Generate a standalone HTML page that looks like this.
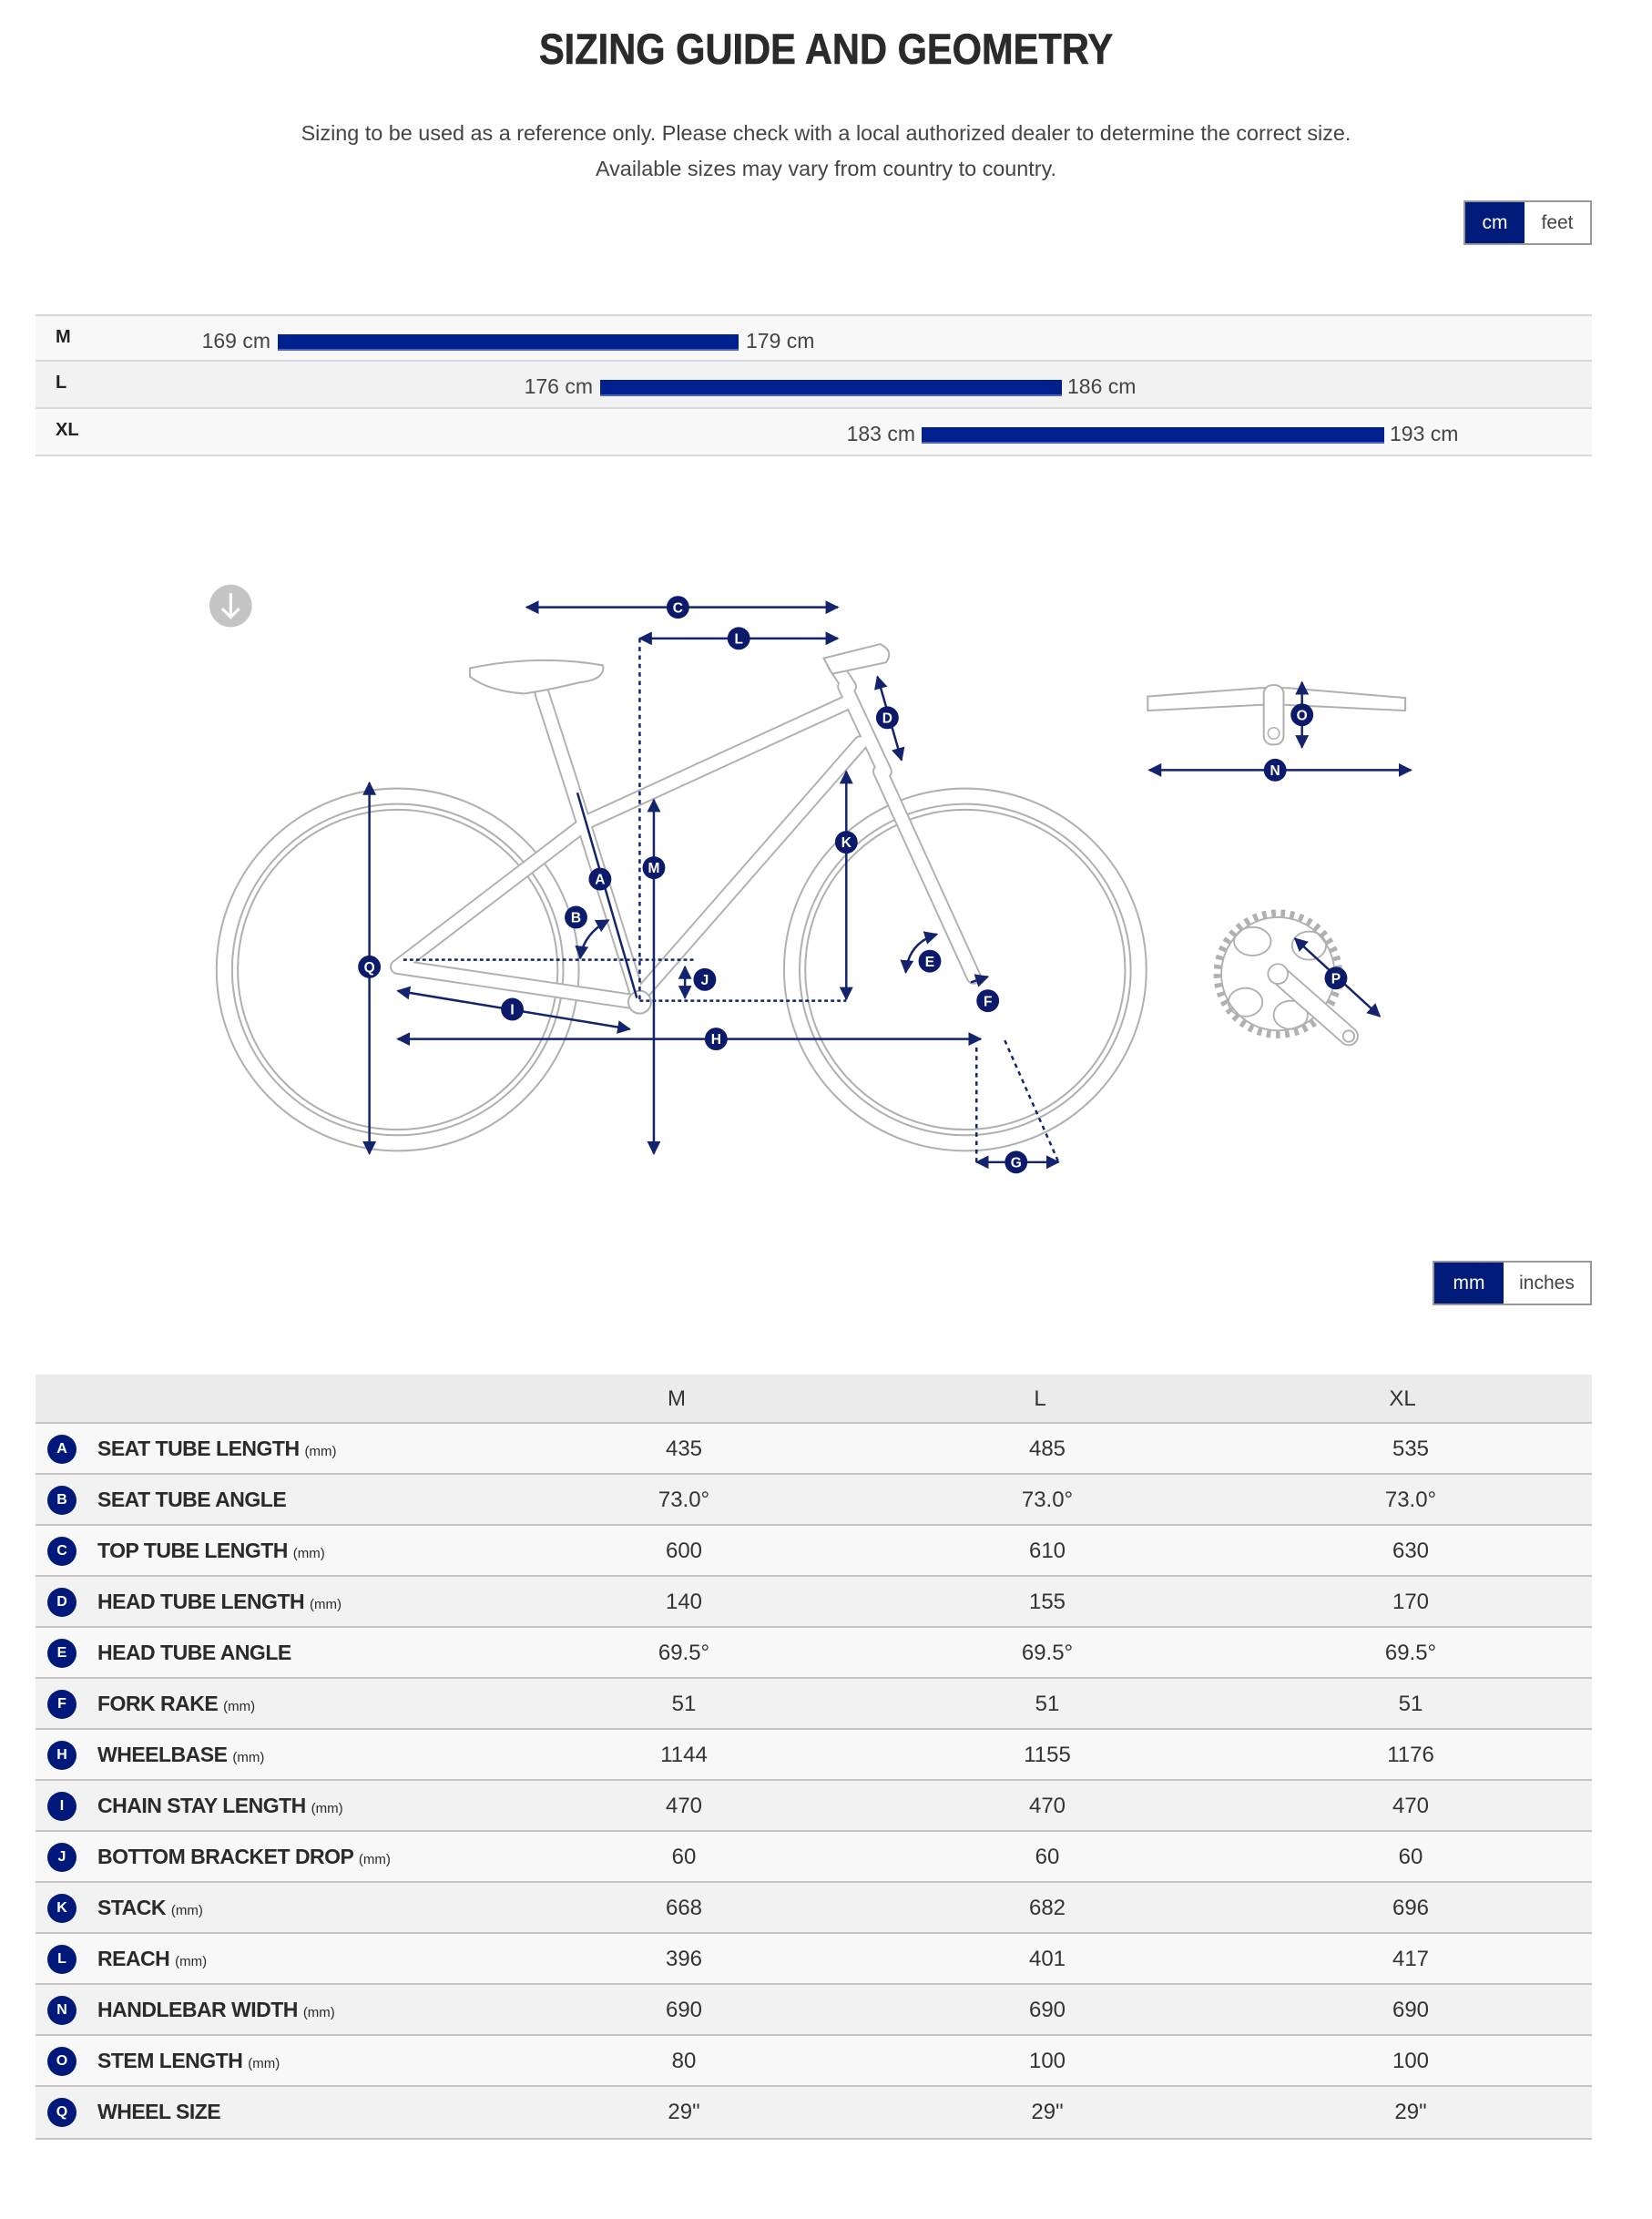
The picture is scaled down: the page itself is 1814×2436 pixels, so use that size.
<!DOCTYPE html>
<html><head><meta charset="utf-8">
<style>
*{margin:0;padding:0;box-sizing:border-box}
body{width:1814px;height:2436px;background:#fff;position:relative;font-family:"Liberation Sans",sans-serif;color:#333;overflow:hidden}
.abs{position:absolute}
.title{left:0;width:1814px;top:26px;text-align:center;font-size:47px;font-weight:bold;color:#2a2a2a;transform:scaleX(0.885);-webkit-text-stroke:0.6px #2a2a2a}
.sub{left:0;width:1814px;text-align:center;font-size:23.4px;color:#444}
.btn{border:2px solid #999;border-left:none;background:#fff;font-size:21px;color:#444;display:flex}
.btn div{display:flex;align-items:center;justify-content:center}
.btn .on{background:#001b7a;color:#fff}
.srow{left:39px;width:1709px;height:52px;border-bottom:2px solid #d8d8d8}
.srow .lab{position:absolute;left:22px;top:12px;font-weight:bold;font-size:20px;color:#222}
.bar{position:absolute;top:20px;height:18px;background:#00208e;border-bottom:2px solid #4a62c8}
.cmL{position:absolute;top:14px;font-size:23px;color:#444;text-align:right;width:120px}
.cmR{position:absolute;top:14px;font-size:23px;color:#444}
.trow{left:39px;width:1709px;height:56px;border-bottom:2px solid #c4c4c4}
.trow .c{position:absolute;left:13px;top:12px;width:32px;height:32px;border-radius:50%;background:#00197a;color:#fff;font-weight:bold;font-size:16px;text-align:center;line-height:32px}
.trow .n{position:absolute;left:68px;top:14px;font-weight:bold;font-size:23px;color:#2a2a2a;white-space:nowrap;letter-spacing:-0.5px}
.trow .n small{font-weight:normal;font-size:15px;letter-spacing:0}
.trow .v{position:absolute;top:14px;width:200px;text-align:center;font-size:24px;color:#333}
</style></head><body>
<div class="abs title">SIZING GUIDE AND GEOMETRY</div>
<div class="abs sub" style="top:133px">Sizing to be used as a reference only. Please check with a local authorized dealer to determine the correct size.</div>
<div class="abs sub" style="top:172px">Available sizes may vary from country to country.</div>
<div class="abs btn" style="left:1607px;top:220px;width:141px;height:49px;border-left:2px solid #999"><div class="on" style="width:65px">cm</div><div style="flex:1">feet</div></div>

<div class="abs srow" style="top:345px;background:#f8f8f8;border-top:2px solid #d8d8d8">
 <div class="lab">M</div><div class="cmL" style="left:138px">169 cm</div><div class="bar" style="left:266px;width:506px"></div><div class="cmR" style="left:780px">179 cm</div></div>
<div class="abs srow" style="top:397px;background:#f2f2f2">
 <div class="lab">L</div><div class="cmL" style="left:492px">176 cm</div><div class="bar" style="left:620px;width:507px"></div><div class="cmR" style="left:1133px">186 cm</div></div>
<div class="abs srow" style="top:449px;background:#f8f8f8">
 <div class="lab">XL</div><div class="cmL" style="left:846px">183 cm</div><div class="bar" style="left:973px;width:508px"></div><div class="cmR" style="left:1487px">193 cm</div></div>

<svg class="abs" style="left:0;top:0" width="1814" height="2436" viewBox="0 0 1167.3 1567.6">
<defs>
<marker id="ar" viewBox="0 0 10 10" refX="9" refY="5" markerWidth="6" markerHeight="6" orient="auto-start-reverse"><path d="M0,0 L10,5 L0,10 z" fill="#13236e"/></marker>
</defs>
<circle cx="163" cy="428" r="15" fill="#c4c4c4"/>
<path d="M163,419 V436 M157,430 L163,436 L169,430" stroke="#fff" stroke-width="2" fill="none"/>
<g fill="none" stroke="#b0b0b0" stroke-width="1.3">
<circle cx="281" cy="685" r="128"/><circle cx="281" cy="685" r="117"/><circle cx="281" cy="685" r="113"/>
<circle cx="682" cy="685" r="128"/><circle cx="682" cy="685" r="117"/><circle cx="682" cy="685" r="113"/>
</g>
<g stroke-linecap="round" fill="none">
<g stroke="#b0b0b0" stroke-width="11">
<path d="M281,683 L450,708"/><path d="M281,683 L416,580"/><path d="M452,708 L404,555"/><path d="M404,555 L383,490"/>
<path d="M416,580 L597,497"/><path d="M455,700 L608,525"/><path d="M597,485 L625,545"/><path d="M622,545 L688,690"/><path d="M590,470 L600,485"/>
</g>
<g stroke="#fff" stroke-width="8.5">
<path d="M281,683 L450,708"/><path d="M281,683 L416,580"/><path d="M452,708 L404,555"/><path d="M404,555 L383,490"/>
<path d="M416,580 L597,497"/><path d="M455,700 L608,525"/><path d="M597,485 L625,545"/><path d="M622,545 L688,690"/><path d="M590,470 L600,485"/>
</g>
</g>
<circle cx="452" cy="708" r="8" fill="#fff" stroke="#b0b0b0" stroke-width="1.3"/>
<path d="M332,472 Q380,462 426,470 Q428,480 410,482 Q385,488 370,490 Q345,488 332,478 z" fill="#fff" stroke="#b0b0b0" stroke-width="1.3"/>
<path d="M582,465 L622,455 Q632,460 626,468 L588,476 z" fill="#fff" stroke="#b0b0b0" stroke-width="1.3"/>
<path d="M811,492 L890,486 L910,486 L993,493 L993,502 L910,498 L890,498 L811,502 z" fill="#fff" stroke="#b0b0b0" stroke-width="1.3"/>
<rect x="893" y="484" width="14" height="42" rx="6" fill="#fff" stroke="#b0b0b0" stroke-width="1.3"/>
<circle cx="900" cy="518" r="4" fill="none" stroke="#b0b0b0"/>
<circle cx="903" cy="688" r="43" fill="none" stroke="#b0b0b0" stroke-width="5" stroke-dasharray="3 3.6"/>
<circle cx="903" cy="688" r="40" fill="#fff" stroke="#b0b0b0" stroke-width="1.2"/>
<g fill="none" stroke="#b0b0b0" stroke-width="1.2">
<ellipse cx="885" cy="665" rx="13" ry="10"/><ellipse cx="925" cy="668" rx="12" ry="10"/><ellipse cx="880" cy="708" rx="12" ry="10"/><ellipse cx="912" cy="717" rx="12" ry="10"/>
<path d="M903,688 L953,732" stroke="#b0b0b0" stroke-width="14" stroke-linecap="round"/>
</g>
<path d="M903,688 L953,732" stroke="#fff" stroke-width="11.5" stroke-linecap="round"/>
<circle cx="903" cy="688" r="7" fill="#fff" stroke="#b0b0b0" stroke-width="1.2"/>
<circle cx="953" cy="732" r="4" fill="#fff" stroke="#b0b0b0" stroke-width="1.2"/>
<g stroke="#13236e" stroke-width="1.6" fill="none">
<line x1="372" y1="429" x2="592" y2="429" marker-start="url(#ar)" marker-end="url(#ar)"/>
<line x1="452" y1="451" x2="592" y2="451" marker-start="url(#ar)" marker-end="url(#ar)"/>
<line x1="452" y1="451" x2="452" y2="708" stroke-dasharray="3 3"/>
<line x1="620" y1="478" x2="637" y2="537" marker-start="url(#ar)" marker-end="url(#ar)"/>
<line x1="598" y1="545" x2="598" y2="706" marker-start="url(#ar)" marker-end="url(#ar)"/>
<line x1="462" y1="565" x2="462" y2="815" marker-start="url(#ar)" marker-end="url(#ar)"/>
<line x1="408" y1="560" x2="450" y2="705"/>
<path d="M410,677 Q412,660 430,650" marker-start="url(#ar)" marker-end="url(#ar)"/>
<line x1="261" y1="553" x2="261" y2="815" marker-start="url(#ar)" marker-end="url(#ar)"/>
<line x1="484" y1="683" x2="484" y2="705" marker-start="url(#ar)" marker-end="url(#ar)"/>
<line x1="285" y1="678" x2="490" y2="678" stroke-dasharray="2.5 2"/>
<line x1="452" y1="707" x2="598" y2="707" stroke-dasharray="2.5 2"/>
<line x1="281" y1="700" x2="445" y2="727" marker-start="url(#ar)" marker-end="url(#ar)"/>
<line x1="281" y1="734" x2="693" y2="734" marker-start="url(#ar)" marker-end="url(#ar)"/>
<path d="M640,687 Q642,666 662,660" marker-start="url(#ar)" marker-end="url(#ar)"/>
<line x1="686" y1="694" x2="698" y2="690" marker-end="url(#ar)"/>
<line x1="690" y1="740" x2="690" y2="821" stroke-dasharray="3 3"/>
<line x1="710" y1="735" x2="748" y2="821" stroke-dasharray="3 3"/>
<line x1="690" y1="821" x2="748" y2="821" marker-start="url(#ar)" marker-end="url(#ar)"/>
<line x1="920" y1="482" x2="920" y2="528" marker-start="url(#ar)" marker-end="url(#ar)"/>
<line x1="812" y1="544" x2="997" y2="544" marker-start="url(#ar)" marker-end="url(#ar)"/>
<line x1="915" y1="663" x2="975" y2="718" marker-start="url(#ar)" marker-end="url(#ar)"/>
</g>
<g font-family="Liberation Sans, sans-serif" font-weight="bold" font-size="10" fill="#fff" text-anchor="middle">
<g transform="translate(479,429)"><circle r="8" fill="#0b1a6b"/><text y="3.6">C</text></g>
<g transform="translate(522,451)"><circle r="8" fill="#0b1a6b"/><text y="3.6">L</text></g>
<g transform="translate(627,507)"><circle r="8" fill="#0b1a6b"/><text y="3.6">D</text></g>
<g transform="translate(598,595)"><circle r="8" fill="#0b1a6b"/><text y="3.6">K</text></g>
<g transform="translate(462,613)"><circle r="8" fill="#0b1a6b"/><text y="3.6">M</text></g>
<g transform="translate(424,621)"><circle r="8" fill="#0b1a6b"/><text y="3.6">A</text></g>
<g transform="translate(407,648)"><circle r="8" fill="#0b1a6b"/><text y="3.6">B</text></g>
<g transform="translate(261,683)"><circle r="8" fill="#0b1a6b"/><text y="3.6">Q</text></g>
<g transform="translate(498,692)"><circle r="8" fill="#0b1a6b"/><text y="3.6">J</text></g>
<g transform="translate(362,713)"><circle r="8" fill="#0b1a6b"/><text y="3.6">I</text></g>
<g transform="translate(506,734)"><circle r="8" fill="#0b1a6b"/><text y="3.6">H</text></g>
<g transform="translate(657,679)"><circle r="8" fill="#0b1a6b"/><text y="3.6">E</text></g>
<g transform="translate(698,707)"><circle r="8" fill="#0b1a6b"/><text y="3.6">F</text></g>
<g transform="translate(718,821)"><circle r="8" fill="#0b1a6b"/><text y="3.6">G</text></g>
<g transform="translate(920,505)"><circle r="8" fill="#0b1a6b"/><text y="3.6">O</text></g>
<g transform="translate(901,544)"><circle r="8" fill="#0b1a6b"/><text y="3.6">N</text></g>
<g transform="translate(944,691)"><circle r="8" fill="#0b1a6b"/><text y="3.6">P</text></g>
</g>
</svg>

<div class="abs btn" style="left:1573px;top:1384px;width:175px;height:49px;border-left:2px solid #999"><div class="on" style="width:76px">mm</div><div style="flex:1">inches</div></div>

<div class="abs trow" style="top:1509px;height:54px;background:#ebebeb">
 <div class="v" style="left:604px;top:13px">M</div><div class="v" style="left:1003px;top:13px">L</div><div class="v" style="left:1401px;top:13px">XL</div></div>

<div class="abs trow" style="top:1563px;background:#f8f8f8"><div class="c">A</div><div class="n">SEAT TUBE LENGTH <small>(mm)</small></div><div class="v" style="left:612px">435</div><div class="v" style="left:1011px">485</div><div class="v" style="left:1410px">535</div></div>
<div class="abs trow" style="top:1619px;background:#f2f2f2"><div class="c">B</div><div class="n">SEAT TUBE ANGLE</div><div class="v" style="left:612px">73.0°</div><div class="v" style="left:1011px">73.0°</div><div class="v" style="left:1410px">73.0°</div></div>
<div class="abs trow" style="top:1675px;background:#f8f8f8"><div class="c">C</div><div class="n">TOP TUBE LENGTH <small>(mm)</small></div><div class="v" style="left:612px">600</div><div class="v" style="left:1011px">610</div><div class="v" style="left:1410px">630</div></div>
<div class="abs trow" style="top:1731px;background:#f2f2f2"><div class="c">D</div><div class="n">HEAD TUBE LENGTH <small>(mm)</small></div><div class="v" style="left:612px">140</div><div class="v" style="left:1011px">155</div><div class="v" style="left:1410px">170</div></div>
<div class="abs trow" style="top:1787px;background:#f8f8f8"><div class="c">E</div><div class="n">HEAD TUBE ANGLE</div><div class="v" style="left:612px">69.5°</div><div class="v" style="left:1011px">69.5°</div><div class="v" style="left:1410px">69.5°</div></div>
<div class="abs trow" style="top:1843px;background:#f2f2f2"><div class="c">F</div><div class="n">FORK RAKE <small>(mm)</small></div><div class="v" style="left:612px">51</div><div class="v" style="left:1011px">51</div><div class="v" style="left:1410px">51</div></div>
<div class="abs trow" style="top:1899px;background:#f8f8f8"><div class="c">H</div><div class="n">WHEELBASE <small>(mm)</small></div><div class="v" style="left:612px">1144</div><div class="v" style="left:1011px">1155</div><div class="v" style="left:1410px">1176</div></div>
<div class="abs trow" style="top:1955px;background:#f2f2f2"><div class="c">I</div><div class="n">CHAIN STAY LENGTH <small>(mm)</small></div><div class="v" style="left:612px">470</div><div class="v" style="left:1011px">470</div><div class="v" style="left:1410px">470</div></div>
<div class="abs trow" style="top:2011px;background:#f8f8f8"><div class="c">J</div><div class="n">BOTTOM BRACKET DROP <small>(mm)</small></div><div class="v" style="left:612px">60</div><div class="v" style="left:1011px">60</div><div class="v" style="left:1410px">60</div></div>
<div class="abs trow" style="top:2067px;background:#f2f2f2"><div class="c">K</div><div class="n">STACK <small>(mm)</small></div><div class="v" style="left:612px">668</div><div class="v" style="left:1011px">682</div><div class="v" style="left:1410px">696</div></div>
<div class="abs trow" style="top:2123px;background:#f8f8f8"><div class="c">L</div><div class="n">REACH <small>(mm)</small></div><div class="v" style="left:612px">396</div><div class="v" style="left:1011px">401</div><div class="v" style="left:1410px">417</div></div>
<div class="abs trow" style="top:2179px;background:#f2f2f2"><div class="c">N</div><div class="n">HANDLEBAR WIDTH <small>(mm)</small></div><div class="v" style="left:612px">690</div><div class="v" style="left:1011px">690</div><div class="v" style="left:1410px">690</div></div>
<div class="abs trow" style="top:2235px;background:#f8f8f8"><div class="c">O</div><div class="n">STEM LENGTH <small>(mm)</small></div><div class="v" style="left:612px">80</div><div class="v" style="left:1011px">100</div><div class="v" style="left:1410px">100</div></div>
<div class="abs trow" style="top:2291px;background:#f2f2f2;height:58px"><div class="c">Q</div><div class="n">WHEEL SIZE</div><div class="v" style="left:612px">29"</div><div class="v" style="left:1011px">29"</div><div class="v" style="left:1410px">29"</div></div>
</body></html>
